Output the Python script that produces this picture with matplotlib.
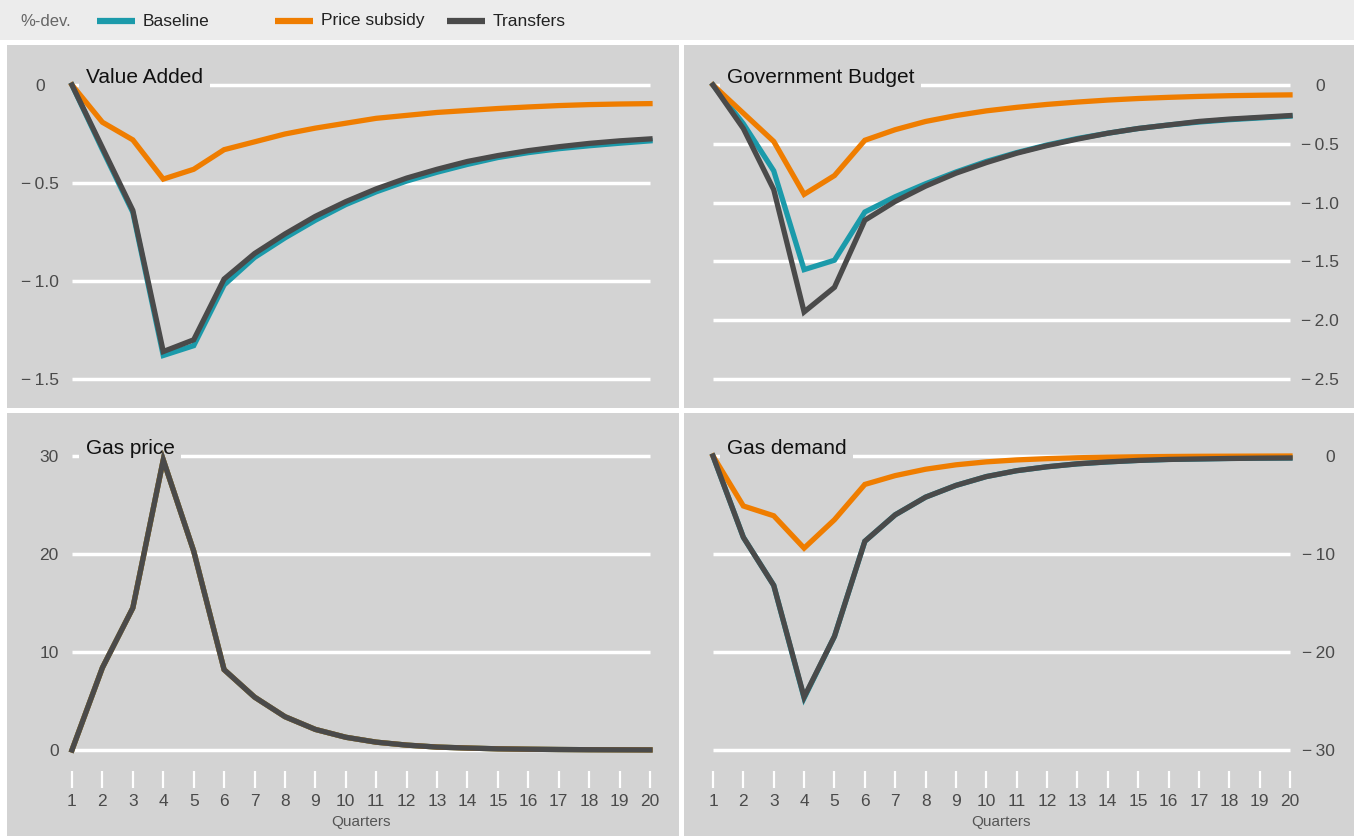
import matplotlib
matplotlib.use("Agg")
import matplotlib.pyplot as plt
from matplotlib.patches import Rectangle
from matplotlib.ticker import FixedLocator, FuncFormatter
from matplotlib.transforms import offset_copy

plt.rcParams['font.family'] = ['Liberation Sans Narrow', 'Liberation Sans', 'DejaVu Sans']

quarters = list(range(1, 21))

# Value Added
va_base = [0, -0.33, -0.65, -1.38, -1.33, -1.02, -0.88, -0.78, -0.69, -0.61, -0.545, -0.49, -0.445,
           -0.405, -0.37, -0.345, -0.325, -0.31, -0.297, -0.285]
va_sub = [0, -0.19, -0.28, -0.48, -0.43, -0.33, -0.29, -0.25, -0.22, -0.195, -0.17, -0.155, -0.14,
          -0.13, -0.12, -0.112, -0.105, -0.1, -0.097, -0.095]
va_tr = [0, -0.32, -0.64, -1.36, -1.30, -0.99, -0.86, -0.76, -0.67, -0.595, -0.53, -0.475, -0.43,
         -0.39, -0.36, -0.335, -0.315, -0.298, -0.285, -0.275]

# Government Budget
gb_base = [0, -0.33, -0.73, -1.57, -1.49, -1.08, -0.95, -0.84, -0.74, -0.65, -0.575, -0.51, -0.455,
           -0.41, -0.37, -0.34, -0.315, -0.295, -0.28, -0.265]
gb_sub = [0, -0.24, -0.48, -0.93, -0.77, -0.47, -0.38, -0.31, -0.26, -0.22, -0.19, -0.165, -0.145,
          -0.128, -0.115, -0.105, -0.097, -0.091, -0.087, -0.084]
gb_tr = [0, -0.37, -0.89, -1.93, -1.72, -1.15, -0.99, -0.86, -0.75, -0.66, -0.58, -0.515, -0.46,
         -0.41, -0.37, -0.34, -0.31, -0.29, -0.275, -0.26]

# Gas price (all scenarios identical)
gp_base = [0, 8.4, 14.5, 29.6, 20.3, 8.2, 5.4, 3.4, 2.1, 1.3, 0.8, 0.5, 0.3, 0.2, 0.12, 0.08, 0.05,
           0.03, 0.02, 0.01]
gp_sub = list(gp_base)
gp_tr = list(gp_base)

# Gas demand
gd_base = [0, -8.3, -13.2, -24.7, -18.4, -8.7, -6.0, -4.2, -3.0, -2.1, -1.5, -1.1, -0.8, -0.6, -0.45,
           -0.35, -0.3, -0.25, -0.22, -0.2]
gd_sub = [0, -5.1, -6.1, -9.4, -6.5, -2.9, -2.0, -1.35, -0.9, -0.6, -0.4, -0.27, -0.18, -0.12, -0.08,
          -0.05, -0.03, -0.02, -0.01, 0]
gd_tr = [0, -8.3, -13.2, -24.6, -18.4, -8.7, -6.0, -4.2, -3.0, -2.1, -1.5, -1.1, -0.8, -0.6, -0.45,
         -0.35, -0.3, -0.25, -0.22, -0.2]

series_names = ["Baseline", "Price subsidy", "Transfers"]
colors = ["#1b9aaa", "#ef7d00", "#4a4a4a"]

W, H = 1354, 836
PANEL = "#d3d3d3"
fig = plt.figure(figsize=(W / 100, H / 100), dpi=100)
fig.patch.set_facecolor("white")


def px_rect(x0, y0, x1, y1):
    return [x0 / W, 1 - y1 / H, (x1 - x0) / W, (y1 - y0) / H]


# header band and panel backgrounds
fig.patches.append(Rectangle((0, 1 - 40 / H), 1, 40 / H, transform=fig.transFigure,
                             facecolor="#ececec", edgecolor="none", zorder=-10))
for (x0, y0, x1, y1) in [(7, 45, 679, 408), (684, 45, 1354, 408),
                         (7, 413, 679, 836), (684, 413, 1354, 836)]:
    fig.patches.append(Rectangle((x0 / W, 1 - y1 / H), (x1 - x0) / W, (y1 - y0) / H,
                                 transform=fig.transFigure, facecolor=PANEL,
                                 edgecolor="none", zorder=-10))

# legend
fig.text(20 / W, 1 - 21 / H, "%-dev.", fontsize=12, color="#666666", va="center")
for i, (name, x) in enumerate(zip(series_names, [97, 275, 447])):
    fig.lines.append(plt.Line2D([x / W, (x + 38) / W], [1 - 21 / H, 1 - 21 / H],
                                transform=fig.transFigure, color=colors[i], lw=4.5,
                                solid_capstyle="butt"))
    fig.text((x + 46) / W, 1 - 21 / H, name, fontsize=12.5, color="#222222", va="center")


def fmt(v, _pos=None):
    if abs(v) < 1e-9:
        return "0"
    s = ("%.1f" % abs(v)) if abs(v) < 5 else ("%d" % round(abs(v)))
    return ("\u2212\u2009" + s) if v < 0 else s


# title, plot box (px), ylim, ticks, data, label side, label align, label pad (pt), show x axis
panels = [
    ("Value Added", (72, 85, 650, 379), (-1.5, 0), [0, -0.5, -1.0, -1.5],
     [va_base, va_sub, va_tr], "left", "center", 23, False),
    ("Government Budget", (713, 85, 1290, 379), (-2.5, 0), [0, -0.5, -1.0, -1.5, -2.0, -2.5],
     [gb_base, gb_sub, gb_tr], "right", "center", 21.5, False),
    ("Gas price", (72, 456, 650, 750), (0, 30), [0, 10, 20, 30],
     [gp_base, gp_sub, gp_tr], "left", "right", 9.5, True),
    ("Gas demand", (713, 456, 1290, 750), (-30, 0), [0, -10, -20, -30],
     [gd_base, gd_sub, gd_tr], "right", "right", 32.5, True),
]

for title, box, ylim, yticks, data, side, align, pad, show_x in panels:
    ax = fig.add_axes(px_rect(*box))
    ax.set_facecolor("none")
    ax.set_xlim(1, 20)
    ax.set_ylim(*ylim)
    for s in ax.spines.values():
        s.set_visible(False)
    for yv in yticks:
        ax.plot([1, 20], [yv, yv], color="white", lw=2.5, zorder=1, clip_on=False,
                solid_capstyle="butt")
    # panel title sits on the top gridline and hides part of it
    ax.text(1.45, max(ylim), title, fontsize=15, color="#111111",
            va="baseline", ha="left", zorder=1.5,
            transform=offset_copy(ax.transData, fig=fig, y=2, units="dots"),
            bbox=dict(facecolor=PANEL, edgecolor="none", pad=5))
    for vals, c in zip(data, colors):
        ax.plot(quarters, vals, color=c, lw=3.8, zorder=3, clip_on=False,
                solid_joinstyle="miter")
    ax.yaxis.set_major_locator(FixedLocator(yticks))
    ax.yaxis.set_major_formatter(FuncFormatter(fmt))
    if side == "left":
        ax.yaxis.tick_left()
    else:
        ax.yaxis.tick_right()
    ax.tick_params(axis="y", length=0, pad=pad, labelsize=12.5, labelcolor="#4a4a4a")
    for lab in ax.get_yticklabels():
        lab.set_horizontalalignment(align)
    ax.xaxis.set_major_locator(FixedLocator(quarters))
    if show_x:
        ax.spines["bottom"].set_position(("outward", 15))
        ax.tick_params(axis="x", direction="out", length=12, width=1.6, color="white",
                       pad=5, labelsize=12.5, labelcolor="#4a4a4a")
        ax.set_xlabel("Quarters", fontsize=11, color="#555555", labelpad=4)
    else:
        ax.tick_params(axis="x", length=0, labelbottom=False)

fig.savefig("out.png", dpi=100, facecolor="white")
